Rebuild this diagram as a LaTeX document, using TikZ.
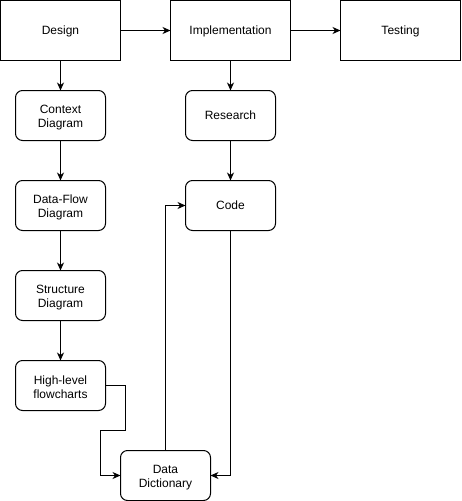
\documentclass[tikz,border=0pt]{standalone}
\usepackage{fontspec}
\setmainfont{Liberation Sans}
\usetikzlibrary{arrows.meta}
\newcommand\lblstrut{\rule[-3pt]{0pt}{14.7pt}}
\begin{document}
\begin{tikzpicture}[x=1pt,y=-1pt,
  boxtext/.style={inner sep=0pt, outer sep=0pt, align=center, font=\fontsize{12}{14}\selectfont},
  bigbox/.style={boxtext, draw, line width=1pt, minimum width=120pt, minimum height=60pt},
  smallbox/.style={boxtext, draw, line width=1pt, rounded corners=7pt, minimum width=90pt, minimum height=50pt},
  mltext/.style={boxtext, yshift=-2.2pt},
  conn/.style={line width=1pt, -{Stealth[length=8pt,width=7pt,inset=2.5pt]}}]
\useasboundingbox (0,0) rectangle (461,501);
\node[bigbox] (design) at (60.5,30.5) {\lblstrut Design};
\node[bigbox] (impl) at (230.5,30.5) {\lblstrut Implementation};
\node[bigbox] (test) at (400.5,30.5) {\lblstrut Testing};
\node[smallbox] (context) at (60.5,115.5) {};
\node[mltext] (contextT) at (context) {Context\\Diagram};
\node[smallbox] (dataflow) at (60.5,205.5) {};
\node[mltext] (dataflowT) at (dataflow) {Data-Flow\\Diagram};
\node[smallbox] (structure) at (60.5,295.5) {};
\node[mltext] (structureT) at (structure) {Structure\\Diagram};
\node[smallbox] (highlevel) at (60.5,385.5) {};
\node[mltext] (highlevelT) at (highlevel) {High-level\\flowcharts};
\node[smallbox] (research) at (230.5,115.5) {\lblstrut Research};
\node[smallbox] (code) at (230.5,205.5) {\lblstrut Code};
\node[smallbox] (dict) at (165.5,475.5) {};
\node[mltext] (dictT) at (dict) {Data\\Dictionary};
\coordinate (h1) at (125.5,385.5);
\coordinate (h2) at (125.5,430.5);
\coordinate (h3) at (100.5,430.5);
\coordinate (h4) at (100.5,475.5);
\coordinate (d1) at (165.5,205.5);
\coordinate (c1) at (230.5,475.5);
\draw[conn] (design) -- (impl);
\draw[conn] (impl) -- (test);
\draw[conn] (design) -- (context);
\draw[conn] (context) -- (dataflow);
\draw[conn] (dataflow) -- (structure);
\draw[conn] (structure) -- (highlevel);
\draw[conn] (impl) -- (research);
\draw[conn] (research) -- (code);
\draw[conn] (highlevel.east) -- (h1) -- (h2) -- (h3) -- (h4) -- (dict.west);
\draw[conn] (dict.north) -- (d1) -- (code.west);
\draw[conn] (code.south) -- (c1) -- (dict.east);
\end{tikzpicture}
\end{document}
